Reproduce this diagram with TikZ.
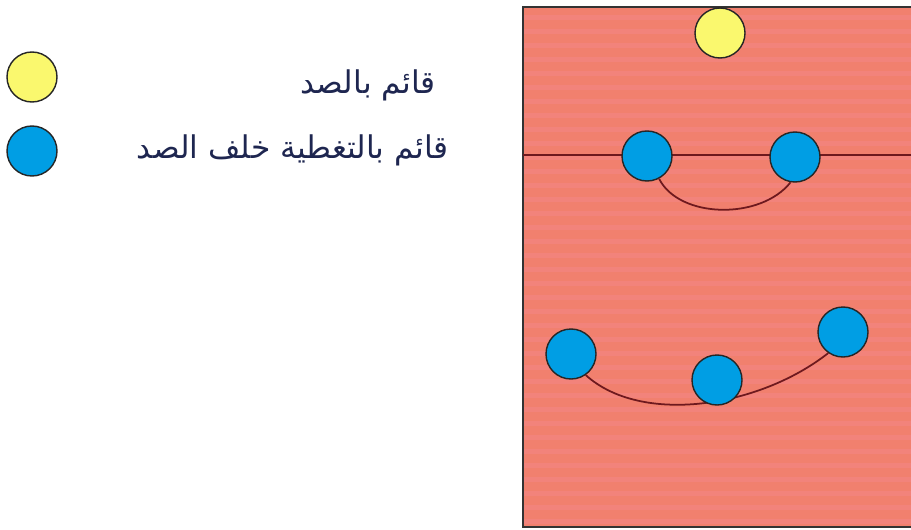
\documentclass[tikz,border=0pt]{standalone}
\usepackage{fontspec}
\newfontfamily\arabicfont[Script=Arabic]{DejaVu Sans}
\TeXXeTstate=1
\definecolor{court}{RGB}{241,128,110}
\definecolor{courtstripe}{RGB}{244,138,150}
\definecolor{netline}{RGB}{110,25,30}
\definecolor{blockfill}{RGB}{250,248,110}
\definecolor{coverfill}{RGB}{0,158,228}
\definecolor{legendtext}{RGB}{30,38,80}
\tikzset{
  blocker/.style={draw=black!85,thick,circle,fill=blockfill,minimum size=10mm,inner sep=0pt},
  coverer/.style={draw=black!85,thick,circle,fill=coverfill,minimum size=10mm,inner sep=0pt},
  legend/.style={text=legendtext,inner sep=0pt,font=\arabicfont\fontsize{17.8}{21}\selectfont},
  cover line/.style={line width=1pt,draw=netline}
}
\begin{document}
\begin{tikzpicture}[x=0.2mm,y=-0.2mm]
\useasboundingbox (0,0) rectangle (911,529);

% court
\fill[court] (523,7) rectangle (911,527);
\foreach \y in {15,29,...,520}
  \fill[courtstripe,opacity=0.35] (523,\y) rectangle (911,\y+5);
\draw[thick,black!80] (911,7) -- (523,7) -- (523,527) -- (911,527);
\draw[thick,netline] (523,155) -- (911,155);

% legend
\node[blocker] (key1) at (32,77) {};
\node[coverer] (key2) at (32,151) {};
\node[legend,anchor=east] (txt1) at (436,85) {\beginR قائم بالصد\endR};
\node[legend,anchor=east] (txt2) at (449,150) {\beginR قائم بالتغطية خلف الصد\endR};

% players
\node[blocker] (blk) at (720,33) {};
\node[coverer] (c1) at (647,156) {};
\node[coverer] (c2) at (795,157) {};
\node[coverer] (c3) at (571,354) {};
\node[coverer] (c5) at (843,332) {};

\draw[cover line] (c1.-62) .. controls +(20,40) and +(-30,38) .. (c2.-100);
\draw[cover line] (c3.-55) .. controls +(55,50) and +(-70,55) .. (c5.-125);

\node[coverer] (c4) at (717,380) {};

\end{tikzpicture}
\end{document}
